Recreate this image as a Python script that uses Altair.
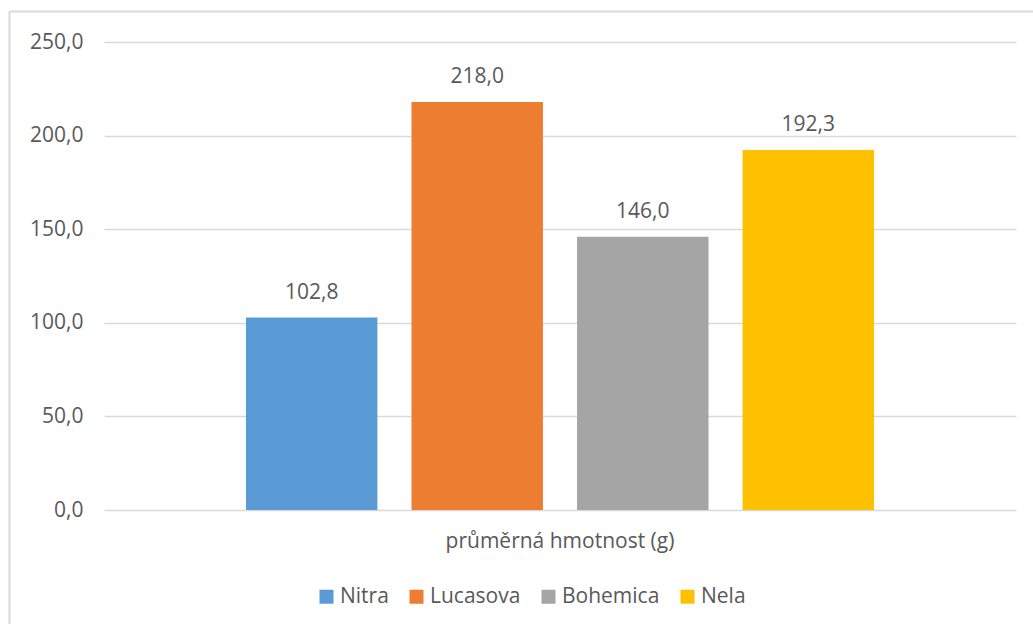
import altair as alt
import pandas as pd

# Average weight per cultivar
odrudy = ["Nitra", "Lucasova", "Bohemica", "Nela"]
hmotnost = [102.8, 218.0, 146.0, 192.3]
kategorie = "průměrná hmotnost (g)"
barvy = ["#5B9BD5", "#ED7D31", "#A5A5A5", "#FFC000"]

df = pd.DataFrame({
    "kategorie": [kategorie] * len(odrudy),
    "odruda": odrudy,
    "hmotnost": hmotnost,
})

FONT = "Open Sans"
TEXT = "#595959"
GRID = "#D9D9D9"
W, H = 912, 468
PAD_L, PAD_T = 104, 42

cz_fmt = "replace(format({v}, '.1f'), '.', ',')"

x_enc = alt.X(
    "kategorie:N",
    title=None,
    scale=alt.Scale(paddingInner=0, paddingOuter=0.226),
    axis=alt.Axis(labelAngle=0, ticks=False, domain=False, labelPadding=20,
                  labelFontSize=21, labelColor=TEXT, labelFont=FONT, grid=False,
                  labelLimit=0),
)
xoff_enc = alt.XOffset(
    "odruda:N", sort=odrudy,
    scale=alt.Scale(paddingInner=0.206, paddingOuter=0),
)
y_enc = alt.Y(
    "hmotnost:Q",
    title=None,
    scale=alt.Scale(domain=[0, 250], nice=False),
    axis=alt.Axis(values=[0, 50, 100, 150, 200, 250], ticks=False, domain=False,
                  labelPadding=21, labelFontSize=21, labelColor=TEXT, labelFont=FONT,
                  gridColor=GRID, gridWidth=1.5,
                  labelExpr=cz_fmt.format(v="datum.value")),
)

bars = alt.Chart(df).mark_bar().encode(
    x=x_enc,
    xOffset=xoff_enc,
    y=y_enc,
    color=alt.Color(
        "odruda:N", sort=odrudy,
        scale=alt.Scale(domain=odrudy, range=barvy),
        legend=alt.Legend(
            title=None, orient="none", direction="horizontal",
            legendX=212, legendY=544,
            symbolType="square", symbolSize=196, symbolStrokeWidth=0,
            labelFontSize=21, labelFont=FONT, labelColor=TEXT,
            labelOffset=3, columnPadding=17,
        ),
    ),
)

labels = alt.Chart(df).transform_calculate(
    popis=cz_fmt.format(v="datum.hmotnost")
).mark_text(
    baseline="alphabetic", dy=-19, fontSize=21, font=FONT, color=TEXT
).encode(
    x=x_enc,
    xOffset=xoff_enc,
    y=y_enc,
    text="popis:N",
)

# Outer frame of the chart area (top and left edges)
ramec = alt.Data(values=[{}])
ramec_top = alt.Chart(ramec).mark_rule(color=GRID, strokeWidth=2).encode(
    x=alt.value(9.5 - PAD_L), x2=alt.value(1040 - PAD_L), y=alt.value(11.5 - PAD_T)
)
ramec_left = alt.Chart(ramec).mark_rule(color=GRID, strokeWidth=2).encode(
    x=alt.value(9.5 - PAD_L), y=alt.value(11.5 - PAD_T), y2=alt.value(640 - PAD_T)
)

chart = alt.layer(bars, labels, ramec_top, ramec_left).properties(
    width=W, height=H,
    autosize=alt.AutoSizeParams(type="none"),
    padding={"left": PAD_L, "top": PAD_T, "right": 1033 - PAD_L - W, "bottom": 624 - PAD_T - H},
    background="white",
).configure_view(stroke=None)

chart.save("out.html", embed_options={"renderer": "svg", "actions": False})
